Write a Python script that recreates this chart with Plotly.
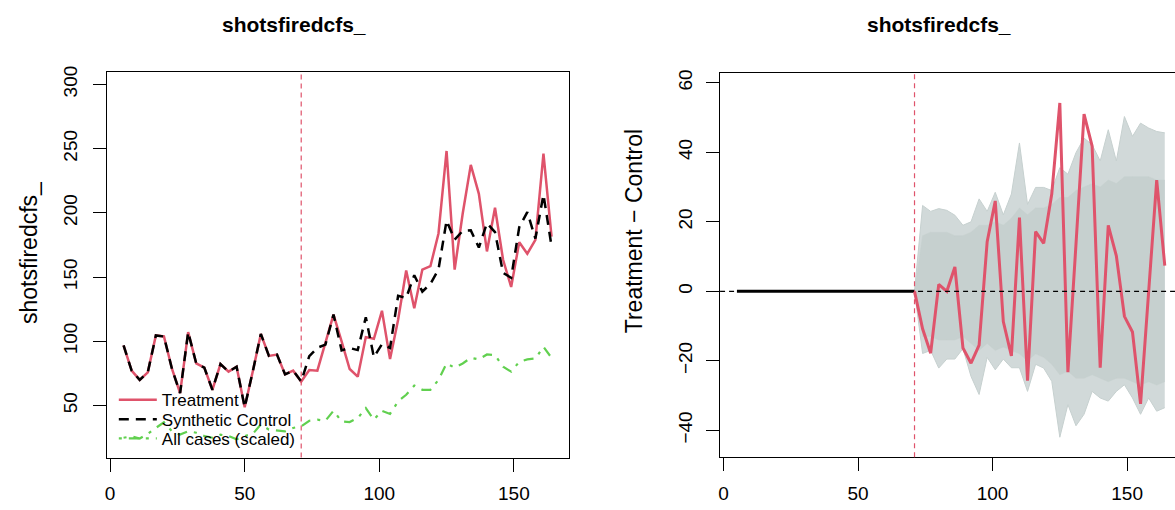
import plotly.graph_objects as go

# ---------------- data ----------------
time = [5, 8, 11, 14, 17, 20, 23, 26, 29, 32, 35, 38, 41, 44, 47, 50, 53, 56,
        59, 62, 65, 68, 71, 74, 77, 80, 83, 86, 89, 92, 95, 98, 101, 104, 107,
        110, 113, 116, 119, 122, 125, 128, 131, 134, 137, 140, 143, 146, 149,
        152, 155, 158, 161, 164]

treatment = [96.9, 77.2, 70.0, 75.9, 104.6, 103.8, 78.5, 59.7, 107.2, 82.8,
             79.5, 62.3, 82.3, 76.4, 80.2, 48.7, 76.5, 105.8, 88.7, 89.7, 74.3,
             77.2, 68.7, 77.7, 77.2, 99.5, 120.8, 100.0, 78.5, 72.5, 103.3,
             102.0, 123.8, 86.2, 116.8, 155.1, 125.8, 155.9, 158.5, 184.0,
             248.2, 155.9, 199.5, 237.4, 214.8, 170.0, 204.0, 163.5, 142.3,
             177.2, 168.2, 179.0, 246.2, 181.5]

synthetic = [96.9, 77.2, 70.0, 75.9, 104.6, 103.8, 78.5, 59.7, 107.2, 82.8,
             79.5, 62.3, 82.3, 76.4, 80.2, 48.7, 76.5, 105.8, 88.7, 89.7, 74.3,
             77.2, 68.7, 88.5, 95.0, 97.5, 120.8, 93.0, 94.8, 93.2, 118.8,
             87.7, 97.8, 94.9, 135.4, 133.9, 151.5, 138.7, 144.7, 156.0,
             194.0, 179.2, 186.0, 186.4, 173.0, 192.0, 185.0, 153.3, 149.5,
             188.9, 200.6, 180.0, 214.2, 174.1]

all_cases_scaled = [25.0, 26.0, 24.4, 28.0, 32.6, 37.0, 30.0, 27.4, 30.0, 28.9,
                    26.3, 25.0, 27.4, 26.3, 23.8, 26.3, 28.0, 35.3, 31.3, 30.5,
                    30.0, 32.6, 33.9, 38.2, 39.0, 38.2, 46.0, 37.7, 37.2, 40.3,
                    48.0, 39.0, 46.0, 43.5, 53.3, 58.4, 65.6, 62.3, 62.3, 70.0,
                    82.8, 79.5, 82.8, 87.2, 86.0, 89.8, 89.2, 80.2, 76.4, 84.1,
                    86.0, 86.7, 95.7, 87.2]

intervention = 71

placebo_time = [71, 74, 77, 80, 83, 86, 89, 92, 95, 98, 101, 104, 107, 110,
                113, 116, 119, 122, 125, 128, 131, 134, 137, 140, 143, 146,
                149, 152, 155, 158, 161, 164]
placebo_max = [0, 24.7, 23.0, 23.8, 23.3, 21.9, 19.0, 20.0, 26.6, 23.0, 28.5,
               22.0, 28.0, 42.7, 25.0, 29.9, 29.9, 29.0, 35.6, 33.7, 39.9, 44.1,
               42.2, 37.5, 46.5, 37.5, 50.3, 44.6, 48.4, 47.0, 46.0, 45.6]
placebo_min = [0, -17.9, -17.0, -22.1, -19.5, -19.5, -16.5, -24.5, -29.7,
               -19.0, -22.6, -19.5, -22.0, -22.0, -28.8, -21.0, -22.1, -25.9,
               -42.0, -32.6, -38.7, -35.4, -28.8, -30.7, -31.6, -28.8, -26.9,
               -30.7, -35.4, -30.7, -34.5, -33.5]
placebo_core_hi = [0, 16, 17, 17, 17, 16, 16, 17, 19, 19, 20, 19, 21, 24, 22,
                   24, 24, 25, 27, 27, 29, 30, 31, 30, 32, 31, 33, 33, 33, 33,
                   32, 32]
placebo_core_lo = [0, -13, -13, -14, -14, -14, -13, -15, -17, -15, -17, -16,
                   -17, -18, -20, -18, -19, -21, -24, -23, -25, -25, -24, -25,
                   -26, -25, -25, -26, -27, -26, -27, -26]

main_title = "shotsfiredcfs_"
left_ylabel = "shotsfiredcfs_"
right_ylabel = "Treatment \u2212 Control"

# ---------------- styles ----------------
RED = "#DF536B"
GREEN = "#61D04F"
GREY = "#C6D0CF"
FONT = "Liberation Sans, Arial, Helvetica, sans-serif"
W, H = 1175, 510

gap = [t - s for t, s in zip(treatment, synthetic)]
pre_idx = [i for i, t in enumerate(time) if t <= intervention]
post_idx = [i for i, t in enumerate(time) if t >= intervention]

fig = go.Figure()

# ----- left panel -----
fig.add_trace(go.Scatter(x=time, y=all_cases_scaled, mode="lines",
                         name="All cases (scaled)", legend="legend3",
                         line=dict(color=GREEN, width=2.2, dash="3px,7px,10px,7px"),
                         xaxis="x", yaxis="y"))
fig.add_trace(go.Scatter(x=time, y=treatment, mode="lines", name="Treatment",
                         legend="legend", line=dict(color=RED, width=2.5),
                         xaxis="x", yaxis="y"))
fig.add_trace(go.Scatter(x=time, y=synthetic, mode="lines",
                         name="Synthetic Control", legend="legend2",
                         line=dict(color="black", width=2.5, dash="10px,7px"),
                         xaxis="x", yaxis="y"))

# ----- right panel -----
fig.add_trace(go.Scatter(x=placebo_time, y=placebo_min, mode="lines",
                         line=dict(color=GREY, width=1), showlegend=False,
                         xaxis="x2", yaxis="y2", hoverinfo="skip"))
fig.add_trace(go.Scatter(x=placebo_time, y=placebo_max, mode="lines",
                         fill="tonexty", fillcolor="rgba(198,208,207,0.8)",
                         line=dict(color=GREY, width=1), showlegend=False,
                         xaxis="x2", yaxis="y2", hoverinfo="skip"))
fig.add_trace(go.Scatter(x=placebo_time, y=placebo_core_lo, mode="lines",
                         line=dict(color=GREY, width=0.5), showlegend=False,
                         xaxis="x2", yaxis="y2", hoverinfo="skip"))
fig.add_trace(go.Scatter(x=placebo_time, y=placebo_core_hi, mode="lines",
                         fill="tonexty", fillcolor=GREY,
                         line=dict(color=GREY, width=0.5), showlegend=False,
                         xaxis="x2", yaxis="y2", hoverinfo="skip"))
fig.add_trace(go.Scatter(x=[time[i] for i in pre_idx], y=[gap[i] for i in pre_idx],
                         mode="lines", line=dict(color="black", width=3),
                         showlegend=False, xaxis="x2", yaxis="y2"))
fig.add_trace(go.Scatter(x=[time[i] for i in post_idx], y=[gap[i] for i in post_idx],
                         mode="lines", line=dict(color=RED, width=3),
                         showlegend=False, xaxis="x2", yaxis="y2"))

# reference lines
fig.add_shape(type="line", xref="x", yref="y domain", x0=intervention,
              x1=intervention, y0=0, y1=1,
              line=dict(color=RED, width=1.2, dash="5px,4px"))
fig.add_shape(type="line", xref="x2", yref="y2 domain", x0=intervention,
              x1=intervention, y0=0, y1=1,
              line=dict(color=RED, width=1.2, dash="5px,4px"))
fig.add_shape(type="line", xref="x2 domain", yref="y2", x0=0, x1=1, y0=0, y1=0,
              line=dict(color="black", width=1.2, dash="5px,4px"))

axis_common = dict(showgrid=False, zeroline=False, showline=True,
                   linecolor="black", linewidth=1, ticks="outside", ticklen=13,
                   tickwidth=1, tickcolor="black",
                   tickfont=dict(family=FONT, size=19, color="black"))

def legend_at(center_px):
    return dict(x=112 / W, y=1 - center_px / H, xanchor="left",
                yanchor="middle", bgcolor="rgba(0,0,0,0)", borderwidth=0,
                itemwidth=38,
                font=dict(family=FONT, size=17, color="black"))

fig.update_layout(
    width=W, height=H,
    margin=dict(l=0, r=0, t=0, b=0),
    paper_bgcolor="white", plot_bgcolor="white",
    font=dict(family=FONT, color="black"),
    xaxis=dict(domain=[105 / W, 568 / W], range=[-1.22, 170.5],
               tickvals=[0, 50, 100, 150], mirror=True, anchor="y",
               ticklabelstandoff=6, **axis_common),
    yaxis=dict(domain=[1 - 457 / H, 1 - 67 / H], range=[9.5, 309.5],
               tickvals=[50, 100, 150, 200, 250, 300], tickangle=-90,
               mirror=True, anchor="x", ticklabelstandoff=8, **axis_common),
    xaxis2=dict(domain=[719.3 / W, 1.0], range=[-1.26, 167.8],
                tickvals=[0, 50, 100, 150], mirror=True, anchor="y2",
                ticklabelstandoff=6, **axis_common),
    yaxis2=dict(domain=[1 - 456.7 / H, 1 - 68 / H], range=[-47.78, 62.77],
                tickvals=[-40, -20, 0, 20, 40, 60], tickangle=-90,
                mirror=False, anchor="x2", ticklabelstandoff=6, **axis_common),
    showlegend=True,
    legend=legend_at(399),
    legend2=legend_at(418.5),
    legend3=legend_at(438),
    annotations=[
        dict(text="<b>%s</b>" % main_title, x=292.5 / W, y=1 - 19 / H,
             xref="paper", yref="paper", showarrow=False,
             xanchor="center", yanchor="middle",
             font=dict(family=FONT, size=21, color="black")),
        dict(text="<b>%s</b>" % main_title, x=939 / W, y=1 - 19 / H,
             xref="paper", yref="paper", showarrow=False,
             xanchor="center", yanchor="middle",
             font=dict(family=FONT, size=21, color="black")),
        dict(text=left_ylabel, x=27 / W, y=1 - 249 / H, textangle=-90,
             xref="paper", yref="paper", showarrow=False,
             xanchor="center", yanchor="middle",
             font=dict(family=FONT, size=23, color="black")),
        dict(text=right_ylabel, x=633 / W, y=1 - 228 / H, textangle=-90,
             xref="paper", yref="paper", showarrow=False,
             xanchor="center", yanchor="middle",
             font=dict(family=FONT, size=23, color="black")),
    ],
)

fig.write_html("out.html")
